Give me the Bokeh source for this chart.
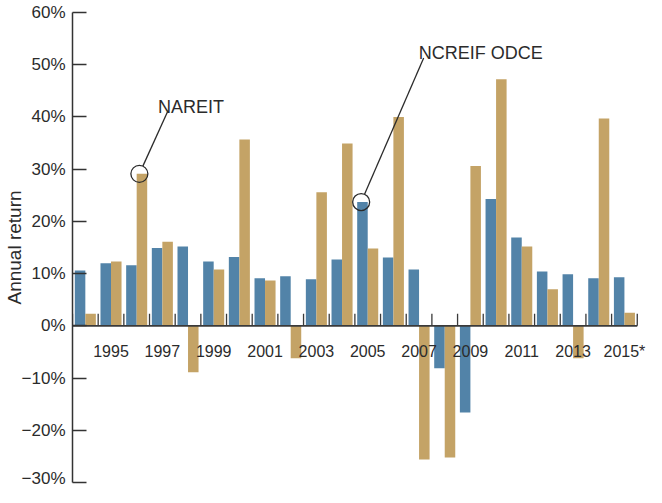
import math
from bokeh.plotting import figure
from bokeh.models import ColumnDataSource, FixedTicker, Label, Range1d
from bokeh.transform import dodge
from bokeh.core.properties import value
from bokeh.embed import file_html
from bokeh.resources import INLINE

# ---------------- data ----------------
years = list(range(1994, 2016))
odce = [10.6, 12.0, 11.6, 14.9, 15.2, 12.3, 13.2, 9.1, 9.5, 8.9, 12.7,
        23.7, 13.1, 10.8, -8.1, -16.6, 24.3, 16.9, 10.4, 9.9, 9.1, 9.3]
nareit = [2.3, 12.3, 29.1, 16.1, -8.9, 10.8, 35.7, 8.7, -6.2, 25.6, 34.9,
          14.8, 40.0, -25.6, -25.2, 30.6, 47.2, 15.2, 7.0, -6.2, 39.7, 2.5]
label_years = [1995, 1997, 1999, 2001, 2003, 2005, 2007, 2009, 2011, 2013, 2015]
year_labels = ["1995", "1997", "1999", "2001", "2003", "2005", "2007",
               "2009", "2011", "2013", "2015*"]
y_ticks = [-30, -20, -10, 0, 10, 20, 30, 40, 50, 60]
y_tick_labels = ["\u221230%", "\u221220%", "\u221210%", "0%", "10%", "20%",
                 "30%", "40%", "50%", "60%"]
nareit_callout_year = 1996
odce_callout_year = 2005

# ---------------- style ----------------
BLUE = "#5283A8"
TAN = "#C4A366"
INK = "#2b2b2b"
REG = "Liberation Sans, Arial, sans-serif"

W, H = 646, 487
ML, MR, MT, MB = 68, 0, 12, 5
x0 = years[0] - 0.5
px_per_x = 25.85
x1 = x0 + (W - ML - MR) / px_per_x
px_per_y = (H - MT - MB) / (y_ticks[-1] - y_ticks[0])

p = figure(width=W, height=H, output_backend="svg", toolbar_location=None,
           x_range=Range1d(x0, x1), y_range=Range1d(y_ticks[0], y_ticks[-1]),
           x_axis_location=None, min_border_left=ML, min_border_right=MR,
           min_border_top=MT, min_border_bottom=MB)
p.outline_line_color = None
p.grid.visible = False
p.background_fill_color = "white"
p.border_fill_color = "white"

src = ColumnDataSource(dict(year=years, odce=odce, nareit=nareit))
bw = 0.41
p.vbar(x=dodge("year", -bw / 2, range=p.x_range), top="odce", width=bw,
       source=src, fill_color=BLUE, line_color=None)
p.vbar(x=dodge("year", bw / 2, range=p.x_range), top="nareit", width=bw,
       source=src, fill_color=TAN, line_color=None)

# zero axis line and ticks between year groups
p.segment(x0=[years[0] - 0.5], x1=[years[-1] + 0.5], y0=[0], y1=[0],
          line_color="#3a3a3a", line_width=1.8)
bounds = [y - 0.5 for y in years] + [years[-1] + 0.5]
tick_h = 12 / px_per_y
p.segment(x0=bounds, x1=bounds, y0=[0] * len(bounds), y1=[tick_h] * len(bounds),
          line_color="#3a3a3a", line_width=1.3)

# year labels
p.text(x=label_years, y=[-25.5 / px_per_y] * len(label_years), text=year_labels,
       text_font=value(REG), text_font_size="16px", text_color=INK,
       text_align="center", text_baseline="alphabetic")

# y axis
ax = p.yaxis[0]
ax.ticker = FixedTicker(ticks=y_ticks)
ax.major_label_overrides = {t: l for t, l in zip(y_ticks, y_tick_labels)}
ax.major_tick_in = 14
ax.major_tick_out = 0
ax.minor_tick_in = 0
ax.minor_tick_out = 0
ax.axis_line_color = "#333333"
ax.axis_line_width = 1.5
ax.major_tick_line_color = "#333333"
ax.major_tick_line_width = 1.5
ax.major_label_standoff = 7
ax.major_label_text_font = REG
ax.major_label_text_font_size = "17px"
ax.major_label_text_color = INK
ax.axis_label = "Annual return"
ax.axis_label_text_font = REG
ax.axis_label_text_font_size = "19px"
ax.axis_label_text_font_style = "normal"
ax.axis_label_text_color = INK
ax.axis_label_standoff = -6

# call-outs
def callout(cx, cy, tx, ty, text, lx, ly):
    p.scatter(x=[cx], y=[cy], marker="circle", size=17, fill_color=None,
              line_color=INK, line_width=1.3)
    dx = (lx - cx) * px_per_x
    dy = (ly - cy) * px_per_y
    d = math.hypot(dx, dy)
    r = 8.5
    sx = cx + (dx / d) * r / px_per_x
    sy = cy + (dy / d) * r / px_per_y
    p.segment(x0=[sx], y0=[sy], x1=[lx], y1=[ly], line_color=INK, line_width=1.3)
    p.add_layout(Label(x=tx, y=ty, text=text, text_font=REG, text_font_size="18px",
                       text_color=INK, text_baseline="alphabetic", text_align="left"))

i_n = years.index(nareit_callout_year)
callout(years[i_n] + bw / 2 - 0.1, nareit[i_n], 1996.83, 42.0, "NAREIT", 1997.22, 41.2)
i_o = years.index(odce_callout_year)
callout(years[i_o] - bw / 2 - 0.05, odce[i_o], 2006.99, 52.2, "NCREIF ODCE", 2007.18, 51.3)

open("out.html", "w").write(file_html(p, INLINE))
